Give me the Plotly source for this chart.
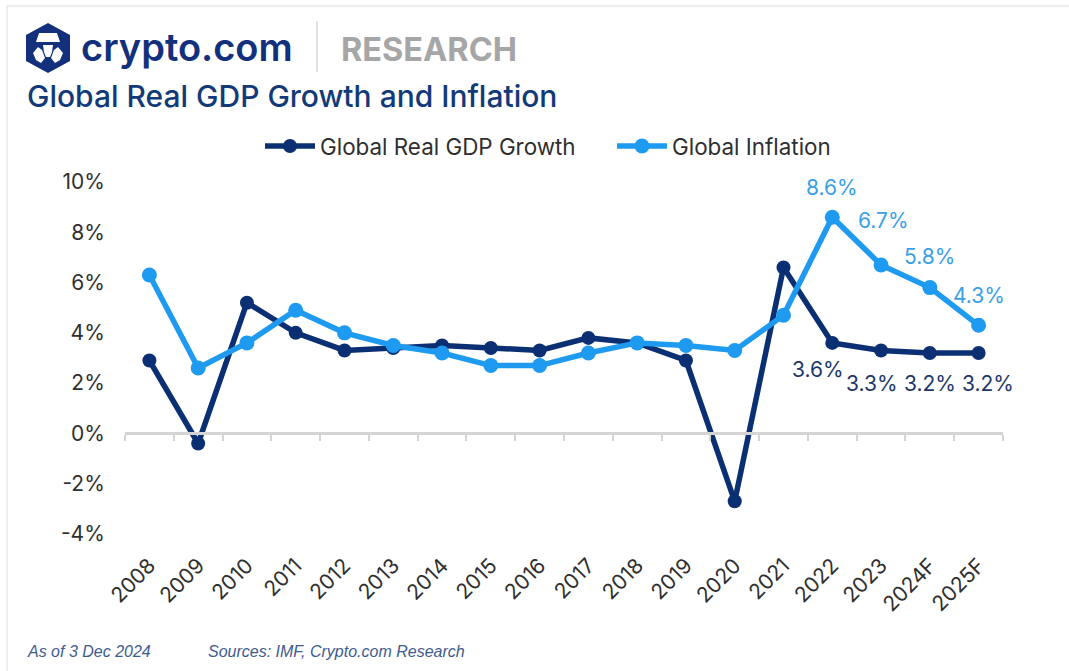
import plotly.graph_objects as go

W, H = 1069, 671

years = ["2008", "2009", "2010", "2011", "2012", "2013", "2014", "2015", "2016",
         "2017", "2018", "2019", "2020", "2021", "2022", "2023", "2024F", "2025F"]
gdp_growth = [2.9, -0.4, 5.2, 4.0, 3.3, 3.4, 3.5, 3.4, 3.3, 3.8, 3.6, 2.9, -2.7, 6.6, 3.6, 3.3, 3.2, 3.2]
inflation = [6.3, 2.6, 3.6, 4.9, 4.0, 3.5, 3.2, 2.7, 2.7, 3.2, 3.6, 3.5, 3.3, 4.7, 8.6, 6.7, 5.8, 4.3]
y_ticks = [-4, -2, 0, 2, 4, 6, 8, 10]

NAVY = "#0b2f73"
SKY = "#1e9bf0"
NAVY_TEXT = "#1d3868"
SKY_TEXT = "#3a9fe8"
AXIS = "#d4d4d4"
TICK_TEXT = "#2f2f2f"
FONT = "Inter"

# plot area in pixels
L, R, T, B = 125, 1003, 182, 534


def px(x):
    return x / W


def py(y):
    return 1 - y / H


def path(points):
    return "M" + " L".join(f"{px(a):.5f},{py(b):.5f}" for a, b in points) + " Z"


fig = go.Figure()
line_style = dict(width=5.5)
fig.add_trace(go.Scatter(x=years, y=gdp_growth, name="Global Real GDP Growth", mode="lines+markers",
                         line=dict(color=NAVY, **line_style), marker=dict(color=NAVY, size=14),
                         xaxis="x", yaxis="y"))
fig.add_trace(go.Scatter(x=years, y=inflation, name="Global Inflation", mode="lines+markers",
                         line=dict(color=SKY, **line_style), marker=dict(color=SKY, size=15),
                         xaxis="x2", yaxis="y"))

# value labels on the last few points, placed by category index
sky_offsets = {"2022": (0, 30), "2023": (2, 44), "2024F": (0, 31), "2025F": (0, 30)}
navy_offsets = {"2022": (-14, -27), "2023": (-9, -33), "2024F": (0, -31), "2025F": (9, -31)}
annotations = []
for i, (yr, v) in enumerate(zip(years, inflation)):
    if yr in sky_offsets:
        dx, dy = sky_offsets[yr]
        annotations.append(dict(x=i, y=v, xref="x", yref="y", text=f"{v:.1f}%", showarrow=False,
                                xshift=dx, yshift=dy, font=dict(family=FONT, size=21, color=SKY_TEXT)))
for i, (yr, v) in enumerate(zip(years, gdp_growth)):
    if yr in navy_offsets:
        dx, dy = navy_offsets[yr]
        annotations.append(dict(x=i, y=v, xref="x", yref="y", text=f"{v:.1f}%", showarrow=False,
                                xshift=dx, yshift=dy, font=dict(family=FONT, size=21, color=NAVY_TEXT)))


def page_text(x, y, text, size, color, weight=400, family=FONT, italic=False):
    annotations.append(dict(x=px(x), y=py(y), xref="paper", yref="paper", text=text, showarrow=False,
                            xanchor="left", yanchor="middle", xshift=-1,
                            font=dict(family=family, size=size, color=color, weight=weight,
                                      style="italic" if italic else "normal")))


page_text(80, 47, "crypto.com", 38, "#12307c", weight=600)
page_text(340, 49, "RESEARCH", 32.5, "#a6a6a6", weight=700)
page_text(26, 96, "Global Real GDP Growth and Inflation", 30, "#123a78", weight=500)
page_text(26, 651, "As of 3 Dec 2024", 16, "#3e5c8e", family="Liberation Sans", italic=True)
page_text(207, 651, "Sources: IMF, Crypto.com Research", 16, "#3e5c8e", family="Liberation Sans", italic=True)


def logo_piece(points, color="white"):
    return dict(type="path", xref="paper", yref="paper", fillcolor=color, line=dict(width=0), path=path(points))


shapes = [
    # page frame
    dict(type="line", xref="paper", yref="paper", x0=px(7), x1=1, y0=py(6), y1=py(6),
         line=dict(color="#dddddd", width=1)),
    dict(type="line", xref="paper", yref="paper", x0=px(7), x1=px(7), y0=py(6), y1=0,
         line=dict(color="#dddddd", width=1)),
    # header divider
    dict(type="line", xref="paper", yref="paper", x0=px(317), x1=px(317), y0=py(21), y1=py(72),
         line=dict(color="#d8d8d8", width=1.5)),
    # logo badge
    logo_piece([(48, 23), (70, 35), (70, 61), (48, 73), (26, 61), (26, 35)], "#12307c"),
    logo_piece([(39, 33), (57, 33), (60, 42), (36, 42)]),
    logo_piece([(43, 45), (53, 45), (52, 52), (50, 57), (46, 57), (44, 52)]),
    logo_piece([(38, 47), (42, 50), (45, 58), (41, 63), (36, 60), (33, 53)]),
    logo_piece([(58, 47), (54, 50), (51, 58), (55, 63), (60, 60), (63, 53)]),
]

category_axis = dict(type="category", categoryorder="array", categoryarray=years,
                     range=[-0.5, len(years) - 0.5], domain=[px(L), px(R)], showgrid=False,
                     zeroline=False, automargin=False)

fig.update_layout(
    width=W, height=H, autosize=False, margin=dict(l=0, r=0, t=0, b=0),
    paper_bgcolor="white", plot_bgcolor="white",
    font=dict(family=FONT, size=21, color=TICK_TEXT),
    xaxis=dict(category_axis, anchor="free", position=py(B) + (py(T) - py(B)) * 4 / 14,
               showline=True, linecolor=AXIS, linewidth=2.5, ticks="outside", tickson="boundaries",
               tickcolor=AXIS, ticklen=6, tickwidth=2, showticklabels=False),
    xaxis2=dict(category_axis, anchor="y", overlaying="x", side="bottom", showline=False,
                ticks="outside", ticklen=10, tickcolor="rgba(0,0,0,0)",
                tickangle=-45, tickmode="array", tickvals=years, ticktext=years,
                tickfont=dict(family=FONT, size=21, color=TICK_TEXT)),
    yaxis=dict(domain=[py(B), py(T)], range=[-4, 10], tickmode="array", tickvals=y_ticks,
               ticktext=[f"{v}%" for v in y_ticks], showgrid=False, automargin=False,
               zeroline=False, showline=False, ticks="outside", ticklen=15, tickcolor="rgba(0,0,0,0)",
               tickfont=dict(family=FONT, size=21, color=TICK_TEXT)),
    legend=dict(orientation="h", x=px(260), y=py(125), xanchor="left", yanchor="top",
                itemwidth=50, entrywidth=287, entrywidthmode="pixels", traceorder="normal",
                font=dict(family=FONT, size=22.4, color=TICK_TEXT), bgcolor="rgba(0,0,0,0)"),
    annotations=annotations,
    shapes=shapes,
)

fig.write_html("out.html")
